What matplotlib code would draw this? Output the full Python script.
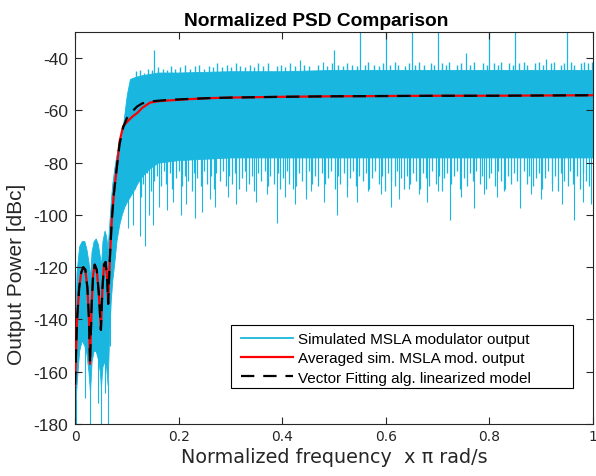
import numpy as np
import matplotlib
matplotlib.use("Agg")
import matplotlib.pyplot as plt
from matplotlib.patches import Rectangle

plt.rcParams['axes.unicode_minus'] = False

# ---------------- data ----------------
# solid core envelope of the simulated (noisy) PSD
band_f = [0.000, 0.003, 0.008, 0.013, 0.018, 0.022, 0.026, 0.029, 0.032, 0.036,
          0.040, 0.044, 0.048, 0.050, 0.053, 0.057, 0.060, 0.063, 0.066, 0.069,
          0.072, 0.076, 0.080, 0.085, 0.090, 0.095, 0.100, 0.106, 0.112, 0.120,
          0.130, 0.145, 0.160, 0.200, 0.300, 0.400, 0.500, 0.600, 0.700, 0.800,
          0.900, 1.000]
band_hi = [-148, -122, -112, -110, -110, -113, -118, -124, -114, -110,
           -109, -111, -116, -120, -110, -106, -108, -113, -104, -95,
           -88, -82, -77, -73, -70, -62, -54, -48, -47.5, -47,
           -46.5, -46, -45.5, -45.5, -45, -45, -44.5, -44.5, -44.5, -44.5,
           -44.5, -44.5]
band_lo = [-176, -165, -152, -148, -150, -153, -160, -168, -156, -152,
           -152, -155, -160, -166, -158, -156, -158, -165, -145, -133,
           -125, -118, -110, -104, -100, -97, -95, -93, -91, -88,
           -85, -82, -80, -79, -78, -78, -78, -78, -78, -78,
           -78, -78]

# deep downward spikes (frequency, level)
down_f = [0.001, 0.020, 0.029, 0.045, 0.050, 0.058, 0.063, 0.068, 0.102, 0.112,
          0.125, 0.135, 0.142, 0.150, 0.162, 0.178, 0.190, 0.205, 0.215, 0.232,
          0.245, 0.260, 0.270, 0.295, 0.310, 0.330, 0.350, 0.370, 0.389, 0.405,
          0.420, 0.425, 0.445, 0.455, 0.480, 0.505, 0.525, 0.545, 0.565, 0.590,
          0.610, 0.625, 0.645, 0.665, 0.680, 0.700, 0.724, 0.745, 0.770, 0.790,
          0.815, 0.830, 0.860, 0.880, 0.900, 0.920, 0.940, 0.963, 0.980, 0.997]
down_v = [-181, -170, -182, -172, -182, -168, -182, -150, -105, -104,
          -108, -112, -100, -104, -97, -98, -95, -100, -96, -101,
          -99, -94, -97, -93, -96, -91, -95, -92, -103, -93,
          -90, -96, -94, -91, -95, -100, -93, -95, -91, -92,
          -97, -94, -90, -92, -95, -91, -102, -93, -97.5, -92,
          -93, -90, -97.5, -92, -94, -91, -96, -102, -95, -96]

# shallow downward "grass" below the solid core
grass_lo_f = [0.115, 0.121, 0.127, 0.131, 0.139, 0.146, 0.153, 0.158, 0.166, 0.171,
              0.176, 0.183, 0.188, 0.195, 0.201, 0.207, 0.212, 0.219, 0.226, 0.230,
              0.236, 0.243, 0.249, 0.255, 0.262, 0.268, 0.273, 0.279, 0.286, 0.291,
              0.298, 0.304, 0.309, 0.316, 0.322, 0.328, 0.335, 0.341, 0.346, 0.353,
              0.359, 0.366, 0.372, 0.377, 0.384, 0.391, 0.396, 0.402, 0.409, 0.414,
              0.421, 0.427, 0.433, 0.439, 0.446, 0.451, 0.458, 0.464, 0.469, 0.476,
              0.483, 0.488, 0.494, 0.501, 0.507, 0.512, 0.519, 0.526, 0.531, 0.537,
              0.543, 0.549, 0.556, 0.562, 0.567, 0.574, 0.580, 0.586, 0.593, 0.598,
              0.604, 0.611, 0.617, 0.622, 0.629, 0.636, 0.641, 0.647, 0.653, 0.659,
              0.666, 0.671, 0.677, 0.684, 0.689, 0.696, 0.702, 0.708, 0.713, 0.719,
              0.726, 0.732, 0.738, 0.743, 0.751, 0.757, 0.762, 0.768, 0.775, 0.781,
              0.786, 0.793, 0.799, 0.804, 0.811, 0.817, 0.823, 0.829, 0.836, 0.841,
              0.847, 0.853, 0.859, 0.866, 0.872, 0.877, 0.884, 0.889, 0.896, 0.902,
              0.907, 0.914, 0.921, 0.926, 0.932, 0.938, 0.944, 0.951, 0.956, 0.962,
              0.969, 0.974, 0.981, 0.987, 0.993]
grass_lo_v = [-90, -86, -93, -88, -84, -91, -87, -85, -89, -83,
              -88, -84, -90, -86, -83, -89, -85, -87, -91, -84,
              -86, -89, -83, -88, -85, -90, -84, -87, -83, -89,
              -85, -88, -84, -90, -86, -83, -88, -85, -91, -84,
              -87, -83, -89, -85, -88, -84, -90, -86, -83, -88,
              -85, -89, -84, -87, -90, -83, -88, -85, -89, -84,
              -88, -86, -83, -90, -85, -88, -84, -89, -86, -83,
              -89, -85, -87, -84, -90, -86, -83, -88, -85, -91,
              -84, -87, -89, -83, -86, -90, -85, -88, -84, -87,
              -90, -84, -86, -89, -83, -88, -85, -91, -86, -84,
              -88, -85, -83, -90, -86, -89, -84, -87, -83, -88,
              -85, -90, -86, -84, -89, -83, -87, -91, -85, -88,
              -84, -87, -90, -83, -88, -85, -89, -86, -84, -90,
              -86, -83, -88, -85, -91, -84, -87, -89, -83, -88,
              -85, -90, -84, -87, -89]

# small upward "grass" above the solid core
grass_hi_f = [0.118, 0.126, 0.134, 0.141, 0.149, 0.161, 0.169, 0.177, 0.186, 0.194,
              0.203, 0.213, 0.222, 0.231, 0.240, 0.249, 0.258, 0.266, 0.275, 0.284,
              0.293, 0.302, 0.311, 0.319, 0.328, 0.337, 0.345, 0.354, 0.363, 0.372,
              0.389, 0.397, 0.406, 0.415, 0.424, 0.442, 0.451, 0.469, 0.487, 0.496,
              0.508, 0.517, 0.526, 0.535, 0.544, 0.559, 0.566, 0.578, 0.587, 0.594,
              0.608, 0.617, 0.624, 0.638, 0.644, 0.657, 0.664, 0.673, 0.688, 0.694,
              0.708, 0.716, 0.722, 0.738, 0.745, 0.762, 0.771, 0.788, 0.795, 0.808,
              0.816, 0.822, 0.838, 0.845, 0.858, 0.866, 0.873, 0.888, 0.895, 0.903,
              0.918, 0.925, 0.938, 0.944, 0.958, 0.964, 0.976, 0.983, 0.991, 0.998]
grass_hi_v = [-45, -44.5, -45.5, -44, -44.5, -43.5, -44, -44.5, -43, -44,
              -43.5, -42.5, -44, -43, -42.5, -44, -43, -43.5, -42, -43.5,
              -42.5, -43.5, -42, -43, -43.5, -42.5, -43.5, -42, -43, -42,
              -43, -42.5, -43.5, -42, -43, -42.5, -43, -42.5, -43, -42,
              -42.5, -43, -42, -42.5, -43, -42.5, -41.5, -42.5, -43, -42,
              -42.5, -41.5, -42.5, -43, -42, -42.5, -41.5, -42.5, -42, -42.5,
              -42, -42.5, -41.5, -42.5, -42, -42.5, -41.5, -42, -42.5, -42,
              -42.5, -41.5, -42, -42.5, -42, -41.5, -42.5, -42, -41.5, -42.5,
              -42, -41.5, -42.5, -42, -41.5, -42.5, -42, -41.5, -42, -41.5]

# tall upward spikes (frequency, level; -20 means beyond the top of the axes)
up_f = [0.152, 0.435, 0.478, 0.500, 0.550, 0.600, 0.650, 0.700, 0.755, 0.800,
        0.850, 0.910, 0.950]
up_v = [-37, -40.7, -41.5, -37, -20, -20, -20, -20, -38, -20,
        -20, -40.5, -20]

# averaged simulated PSD
avg_f = [0.000, 0.004, 0.008, 0.012, 0.016, 0.020, 0.024, 0.027, 0.029, 0.032,
         0.035, 0.038, 0.042, 0.046, 0.050, 0.053, 0.056, 0.059, 0.062, 0.064,
         0.067, 0.071, 0.075, 0.080, 0.086, 0.093, 0.100, 0.110, 0.120, 0.130,
         0.145, 0.160, 0.180, 0.220, 0.260, 0.300, 0.400, 0.500, 0.600, 0.700,
         0.800, 0.900, 1.000]
avg_v = [-165, -140, -128, -122, -120, -121, -128, -140, -157, -135,
         -123, -119, -121, -130, -144, -128, -119, -118, -124, -134,
         -118, -102, -92, -83, -72, -66, -64.5, -62.5, -61, -59,
         -57, -56.5, -56.2, -55.7, -55.3, -55.1, -54.8, -54.6, -54.5, -54.4,
         -54.4, -54.3, -54.2]

# vector fitting model
vf_f = [0.000, 0.004, 0.008, 0.012, 0.016, 0.020, 0.024, 0.027, 0.029, 0.032,
        0.035, 0.038, 0.042, 0.046, 0.050, 0.053, 0.056, 0.059, 0.062, 0.064,
        0.067, 0.071, 0.075, 0.080, 0.086, 0.093, 0.100, 0.110, 0.120, 0.130,
        0.145, 0.160, 0.180, 0.220, 0.260, 0.300, 0.400, 0.500, 0.600, 0.700,
        0.800, 0.900, 1.000]
vf_v = [-165, -140, -128, -122, -120, -121, -128, -140, -157, -135,
        -123, -119, -121, -130, -144, -128, -119, -118, -124, -134,
        -118, -102, -92, -83, -73, -66.5, -63, -60.5, -58.5, -57.3,
        -56.6, -56.3, -56.0, -55.6, -55.3, -55.1, -54.8, -54.6, -54.5, -54.4,
        -54.4, -54.3, -54.2]

x_ticks = [0, 0.2, 0.4, 0.6, 0.8, 1]
x_tick_labels = ['0', '0.2', '0.4', '0.6', '0.8', '1']
y_ticks = [-180, -160, -140, -120, -100, -80, -60, -40]
legend_labels = ['Simulated MSLA modulator output',
                 'Averaged sim. MSLA mod. output',
                 'Vector Fitting alg. linearized model']

# ---------------- drawing ----------------
CYAN = '#19B6DF'
EDGE = '#262626'

fig = plt.figure(figsize=(5.96, 4.77), dpi=100)
ax = fig.add_axes([75 / 596, 52 / 477, 518 / 596, 392 / 477])

ax.fill_between(band_f, band_lo, band_hi, color=CYAN, lw=0.6, zorder=1)
ax.vlines(down_f, down_v, np.interp(down_f, band_f, band_lo) + 2,
          color=CYAN, lw=0.8, zorder=1)
ax.vlines(grass_lo_f, grass_lo_v, np.interp(grass_lo_f, band_f, band_lo) + 2,
          color=CYAN, lw=0.9, zorder=1)
ax.vlines(grass_hi_f, np.interp(grass_hi_f, band_f, band_hi) - 2, grass_hi_v,
          color=CYAN, lw=1.0, zorder=1)
ax.vlines(up_f, np.interp(up_f, band_f, band_hi) - 2, up_v,
          color=CYAN, lw=0.9, zorder=1)

ax.plot([], [], color=CYAN, lw=1.3, label=legend_labels[0])
ax.plot(avg_f, avg_v, color='#FF0000', lw=1.6, zorder=3, label=legend_labels[1])
ax.plot(vf_f, vf_v, color='black', lw=1.6, dashes=(6, 4), zorder=4,
        label=legend_labels[2])

ax.set_xlim(0, 1)
ax.set_ylim(-180, -30)
ax.set_xticks(x_ticks)
ax.set_xticklabels(x_tick_labels)
ax.set_yticks(y_ticks)
ax.tick_params(direction='in', top=True, right=True, length=5, width=0.8,
               colors=EDGE, labelsize=10)
ax.tick_params(axis='y', pad=5)
for lab in ax.get_yticklabels():
    lab.set_fontfamily('Liberation Sans')
    lab.set_fontsize(12.5)
for s in ax.spines.values():
    s.set_color(EDGE)
    s.set_linewidth(0.8)

ax.set_title('Normalized PSD Comparison', fontfamily='Liberation Sans',
             fontweight='bold', fontsize=13.8, pad=5, x=0.465)
ax.set_xlabel('Normalized frequency  x \u03c0 rad/s', fontsize=13.8, color=EDGE,
              labelpad=3)
ax.set_ylabel('Output Power [dBc]', fontfamily='Liberation Sans', fontsize=15,
              color=EDGE)
ax.yaxis.set_label_coords(-0.094, 0.383)

leg = ax.legend(loc='upper left', bbox_to_anchor=(0.3205, 0.2347),
                prop={'family': 'Liberation Sans', 'size': 11},
                frameon=False, handlelength=3.4, handletextpad=0.33,
                labelspacing=0.35, borderpad=0, borderaxespad=0)
ax.add_patch(Rectangle((0.301, 0.0918), 0.660, 0.1607, transform=ax.transAxes,
                       facecolor='white', edgecolor='black', lw=0.8, zorder=5))
leg.set_zorder(6)

fig.savefig('out.png', dpi=100)
